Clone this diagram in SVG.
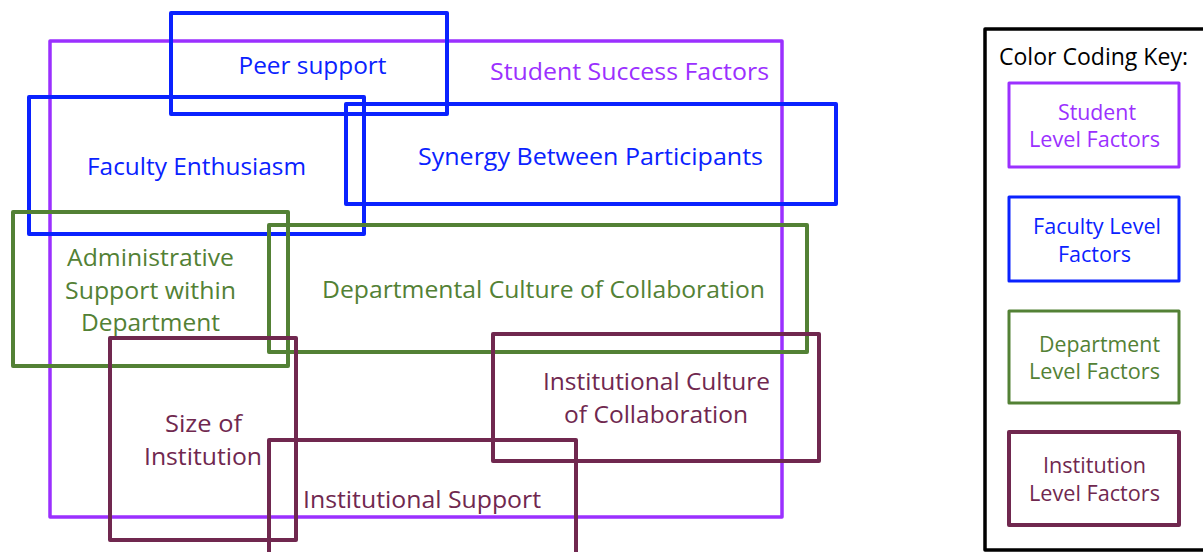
<svg xmlns="http://www.w3.org/2000/svg" width="1203" height="552" viewBox="0 0 1203 552">
<style>
rect{fill:none;stroke-linejoin:round}
.p{stroke:#9B30FF;stroke-width:3.5}
.b{stroke:#0A22FF;stroke-width:4}
.g{stroke:#538135;stroke-width:4}
.m{stroke:#70284F;stroke-width:4}
.k{stroke:#000;stroke-width:3.5}
text{font-family:"Open Sans","Noto Sans",sans-serif;font-size:23px;text-anchor:middle}
.tk{font-size:21px}
.tp{fill:#9B30FF}.tb{fill:#0A22FF}.tg{fill:#538135}.tm{fill:#70284F}.tx{fill:#000}
</style>
<rect width="1203" height="552" fill="#fff" style="stroke:none"/>
<g id="student-success-factors">
<rect class="p" x="50" y="41" width="732" height="476"/>
<text class="tp" x="629.5" y="80" textLength="279" lengthAdjust="spacingAndGlyphs">Student Success Factors</text>
</g>
<g id="peer-support">
<rect class="b" x="171" y="13" width="276" height="101"/>
<text class="tb" x="312.5" y="74" textLength="148" lengthAdjust="spacingAndGlyphs">Peer support</text>
</g>
<g id="faculty-enthusiasm">
<rect class="b" x="29" y="97" width="335" height="137"/>
<text class="tb" x="196.5" y="175" textLength="219" lengthAdjust="spacingAndGlyphs">Faculty Enthusiasm</text>
</g>
<g id="synergy">
<rect class="b" x="346" y="104" width="490" height="100"/>
<text class="tb" x="590.5" y="165" textLength="345" lengthAdjust="spacingAndGlyphs">Synergy Between Participants</text>
</g>
<g id="administrative-support">
<rect class="g" x="13" y="212" width="275" height="154"/>
<text class="tg" x="150.5" y="266" textLength="167" lengthAdjust="spacingAndGlyphs">Administrative</text>
<text class="tg" x="150.5" y="299" textLength="171" lengthAdjust="spacingAndGlyphs">Support within</text>
<text class="tg" x="150.5" y="331" textLength="139" lengthAdjust="spacingAndGlyphs">Department</text>
</g>
<g id="departmental-culture">
<rect class="g" x="269" y="225" width="538" height="127"/>
<text class="tg" x="543.5" y="298" textLength="443" lengthAdjust="spacingAndGlyphs">Departmental Culture of Collaboration</text>
</g>
<g id="size-of-institution">
<rect class="m" x="110" y="338" width="186" height="202"/>
<text class="tm" x="203.5" y="432" textLength="77" lengthAdjust="spacingAndGlyphs">Size of</text>
<text class="tm" x="203" y="465" textLength="118" lengthAdjust="spacingAndGlyphs">Institution</text>
</g>
<g id="institutional-support">
<rect class="m" x="269" y="440" width="307" height="130"/>
<text class="tm" x="422" y="508" textLength="238" lengthAdjust="spacingAndGlyphs">Institutional Support</text>
</g>
<g id="institutional-culture">
<rect class="m" x="493" y="334" width="326" height="127"/>
<text class="tm" x="656.5" y="390" textLength="227" lengthAdjust="spacingAndGlyphs">Institutional Culture</text>
<text class="tm" x="656" y="423" textLength="184" lengthAdjust="spacingAndGlyphs">of Collaboration</text>
</g>
<g id="key">
<rect class="k" x="985" y="29" width="240" height="521"/>
<text class="tx" x="1093.5" y="65" textLength="189" lengthAdjust="spacingAndGlyphs">Color Coding Key:</text>
<g id="key-student">
<rect class="p" style="stroke-width:3" x="1009" y="83" width="170" height="84"/>
<text class="tk tp" x="1097" y="120" textLength="78" lengthAdjust="spacingAndGlyphs">Student</text>
<text class="tk tp" x="1094.5" y="147" textLength="131" lengthAdjust="spacingAndGlyphs">Level Factors</text>
</g>
<g id="key-faculty">
<rect class="b" style="stroke-width:3" x="1009" y="197" width="170" height="84"/>
<text class="tk tb" x="1097" y="234" textLength="128" lengthAdjust="spacingAndGlyphs">Faculty Level</text>
<text class="tk tb" x="1094.5" y="262" textLength="73" lengthAdjust="spacingAndGlyphs">Factors</text>
</g>
<g id="key-department">
<rect class="g" style="stroke-width:3" x="1009" y="311" width="170" height="92"/>
<text class="tk tg" x="1099.5" y="352" textLength="121" lengthAdjust="spacingAndGlyphs">Department</text>
<text class="tk tg" x="1094.5" y="379" textLength="131" lengthAdjust="spacingAndGlyphs">Level Factors</text>
</g>
<g id="key-institution">
<rect class="m" x="1009" y="432" width="170" height="93"/>
<text class="tk tm" x="1094.5" y="473" textLength="103" lengthAdjust="spacingAndGlyphs">Institution</text>
<text class="tk tm" x="1094.5" y="501" textLength="131" lengthAdjust="spacingAndGlyphs">Level Factors</text>
</g>
</g>
<g id="connectors"></g>
</svg>
